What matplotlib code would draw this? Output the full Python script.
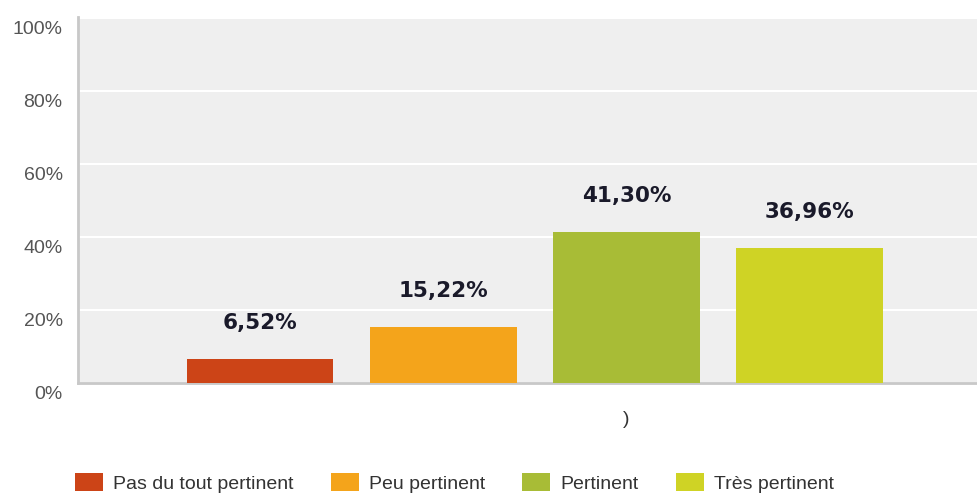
import matplotlib.pyplot as plt
import matplotlib.transforms as mtransforms
from matplotlib.patches import Patch

# survey answers
categories = ['Pas du tout pertinent', 'Peu pertinent', 'Pertinent', 'Très pertinent']
values = [6.52, 15.22, 41.30, 36.96]
colors = ['#cc4417', '#f4a41b', '#a8bc36', '#cfd325']
yticks = [0, 20, 40, 60, 80, 100]
ytick_labels = ['0%', '20%', '40%', '60%', '80%', '100%']
group_label = ')'

plt.rcParams['font.family'] = ['Liberation Sans', 'DejaVu Sans']

fig = plt.figure(figsize=(9.78, 4.94), dpi=100)
ax = fig.add_axes([78/978, (494-383)/494, 900/978, 366/494])
ax.set_facecolor('#efefef')

xs = list(range(len(values)))
ax.bar(xs, values, width=0.8, color=colors, zorder=3)

# value labels above each bar
for x, v in zip(xs, values):
    ax.annotate(f'{v:.2f}%'.replace('.', ','), (x, v), xytext=(0, 26),
                textcoords='offset points', ha='center', va='center',
                fontsize=15.5, fontweight='bold', color='#1a1a2a',
                family='DejaVu Sans')

ax.set_xlim(-0.995, 3.92)
ax.set_ylim(0, 100.3)
ax.set_xticks([])
ax.set_yticks(yticks)
ax.set_yticklabels(ytick_labels)
ax.tick_params(axis='y', length=0, pad=11, labelsize=14, labelcolor='#555555')
shift = mtransforms.ScaledTranslation(0, -9/100, fig.dpi_scale_trans)
for lab in ax.get_yticklabels():
    lab.set_transform(lab.get_transform() + shift)

ax.grid(axis='y', color='white', linewidth=1.5, zorder=1)
ax.set_axisbelow(True)
for side in ['top', 'right']:
    ax.spines[side].set_visible(False)
for side in ['left', 'bottom']:
    ax.spines[side].set_color('#c8c8c8')
    ax.spines[side].set_linewidth(2)

ax.text(2, -0.10, group_label, transform=ax.get_xaxis_transform(),
        ha='center', va='center', fontsize=14, color='#333333')

handles = [Patch(facecolor=c, edgecolor='none') for c in colors]
fig.legend(handles, categories, loc='center left', bbox_to_anchor=(75/978, 11/494),
           ncol=4, frameon=False, fontsize=14, handlelength=1.45, handleheight=1.05,
           handletextpad=0.5, columnspacing=1.92, borderaxespad=0, borderpad=0,
           labelcolor='#333333')

fig.savefig('out.png', dpi=100)
